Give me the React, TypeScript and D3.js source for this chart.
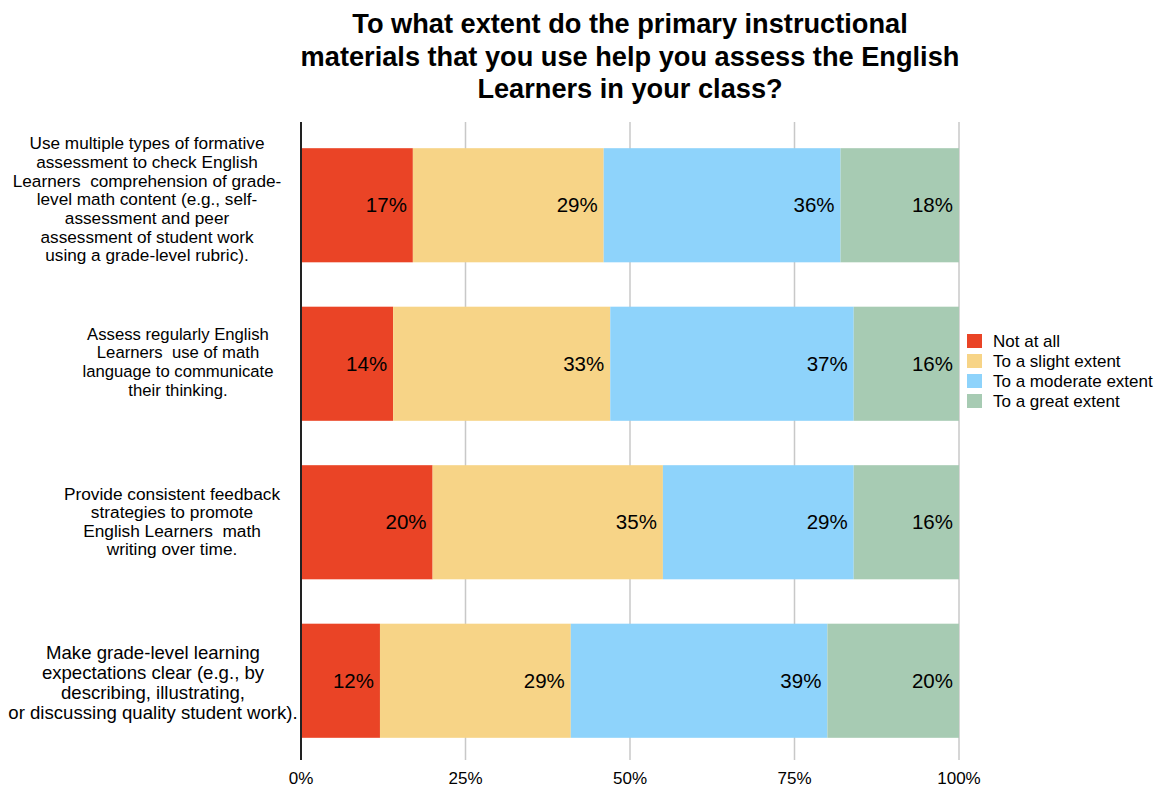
import React from "react";
import * as d3 from "d3";

const titleLines = [
  "To what extent do the primary instructional",
  "materials that you use help you assess the English",
  "Learners in your class?",
];

const categories = [
  [
    "Use multiple types of formative",
    "assessment to check English",
    "Learners  comprehension of grade-",
    "level math content (e.g., self-",
    "assessment and peer",
    "assessment of student work",
    "using a grade-level rubric).",
  ],
  [
    "Assess regularly English",
    "Learners  use of math",
    "language to communicate",
    "their thinking.",
  ],
  [
    "Provide consistent feedback",
    "strategies to promote",
    "English Learners  math",
    "writing over time.",
  ],
  [
    "Make grade-level learning",
    "expectations clear (e.g., by",
    "describing, illustrating,",
    "or discussing quality student work).",
  ],
];

const seriesNames = ["Not at all", "To a slight extent", "To a moderate extent", "To a great extent"];
const seriesColors = ["#EA4426", "#F7D487", "#8ED3FB", "#A7CBB3"];

const notAtAll = [17, 14, 20, 12];
const slight = [29, 33, 35, 29];
const moderate = [36, 37, 29, 39];
const great = [18, 16, 16, 20];

const tickValues = [0, 25, 50, 75, 100];

// per-label text styling (the reference wraps/scales each label individually)
const labelStyle = [
  { cx: 147, fs: 17.2, lh: 18.7, dy: -6 },
  { cx: 178, fs: 16.7, lh: 18.7, dy: -2 },
  { cx: 172, fs: 17.3, lh: 18.4, dy: -1 },
  { cx: 153, fs: 18.6, lh: 20, dy: 2 },
];

const FONT = "Helvetica, Arial, 'Liberation Sans', sans-serif";

export default function App() {
  const width = 1158;
  const height = 786;
  const x = d3.scaleLinear().domain([0, 100]).range([301, 959]);
  const y = d3
    .scaleBand<number>()
    .domain(d3.range(categories.length))
    .range([126, 760])
    .paddingInner(0.28)
    .paddingOuter(0.14);

  const seriesData = [notAtAll, slight, moderate, great];
  const rows = categories.map((_, i) => {
    const obj: Record<string, number> = {};
    seriesNames.forEach((s, k) => (obj[s] = seriesData[k][i]));
    return obj;
  });
  const stacked = d3.stack<Record<string, number>>().keys(seriesNames)(rows);

  return (
    <svg width={width} height={height} style={{ position: "absolute", left: 0, top: 0, background: "#fff" }}>
      {titleLines.map((t, i) => (
        <text
          key={i}
          x={630}
          y={33 + i * 32.5}
          textAnchor="middle"
          fontFamily={FONT}
          fontWeight="bold"
          fontSize={27.2}
          fill="#000"
        >
          {t}
        </text>
      ))}

      {tickValues.slice(1).map((t) => (
        <line key={t} x1={x(t)} x2={x(t)} y1={122} y2={760} stroke="#c8c8c8" strokeWidth={1.5} />
      ))}

      {stacked.map((layer, k) => (
        <g key={k}>
          {layer.map((d, i) => (
            <rect
              key={i}
              x={x(d[0])}
              y={y(i)!}
              width={x(d[1]) - x(d[0])}
              height={y.bandwidth()}
              fill={seriesColors[k]}
            />
          ))}
          {layer.map((d, i) => (
            <text
              key={"t" + i}
              x={x(d[1]) - 6}
              y={y(i)! + y.bandwidth() / 2 + 7}
              textAnchor="end"
              fontFamily={FONT}
              fontSize={20.5}
              fill="#000"
            >
              {`${d[1] - d[0]}%`}
            </text>
          ))}
        </g>
      ))}

      <line x1={301} x2={301} y1={122} y2={760} stroke="#222" strokeWidth={2} />

      {tickValues.map((t) => (
        <text key={t} x={x(t)} y={783.5} textAnchor="middle" fontFamily={FONT} fontSize={17} fill="#000">
          {`${t}%`}
        </text>
      ))}

      {categories.map((lines, i) => {
        const st = labelStyle[i];
        const cy = y(i)! + y.bandwidth() / 2 + st.dy;
        const start = cy - ((lines.length - 1) * st.lh) / 2;
        return (
          <g key={i}>
            {lines.map((l, j) => (
              <text
                key={j}
                x={st.cx}
                y={start + j * st.lh + st.fs * 0.35}
                textAnchor="middle"
                fontFamily={FONT}
                fontSize={st.fs}
                fill="#000"
                style={{ whiteSpace: "pre" }}
              >
                {l}
              </text>
            ))}
          </g>
        );
      })}

      {seriesNames.map((s, k) => (
        <g key={s}>
          <rect x={967} y={334 + k * 20} width={15} height={14} fill={seriesColors[k]} />
          <text x={993} y={347 + k * 20} fontFamily={FONT} fontSize={17} fill="#000">
            {s}
          </text>
        </g>
      ))}
    </svg>
  );
}
